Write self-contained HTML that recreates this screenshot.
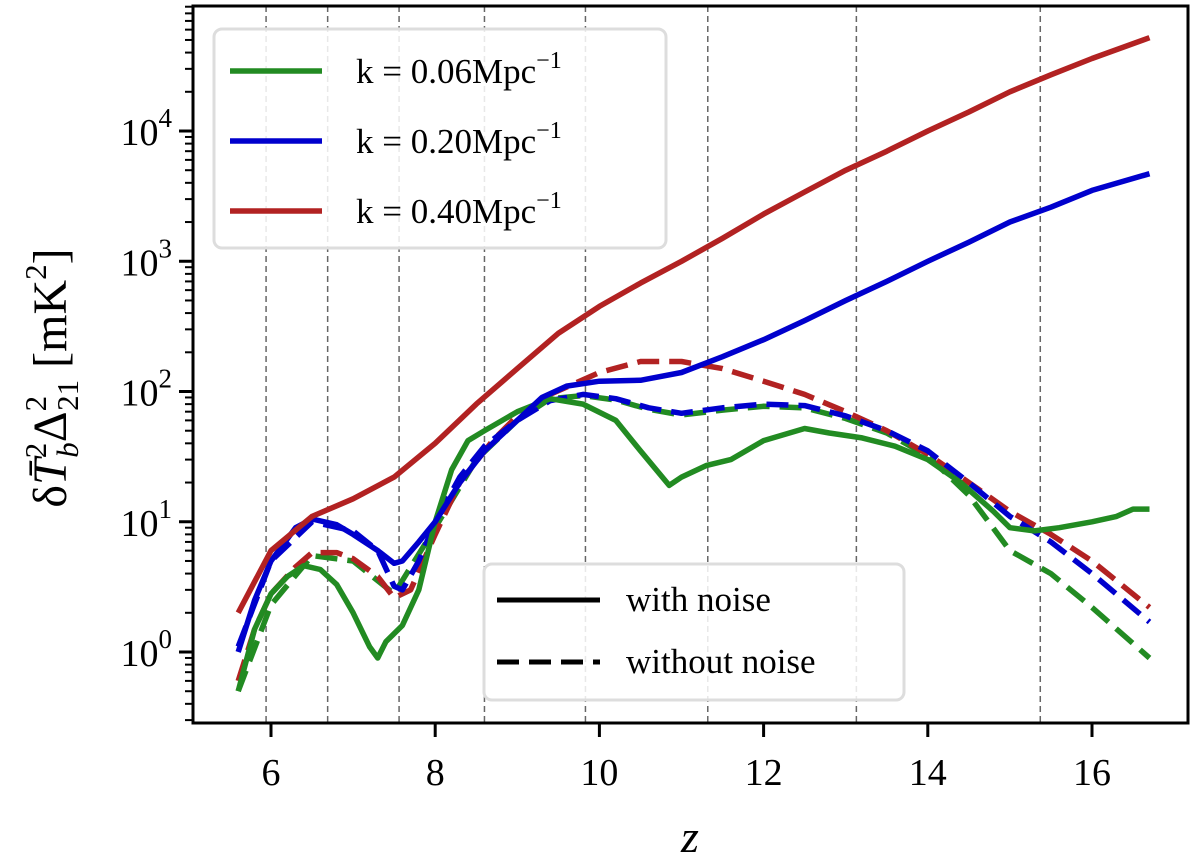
<!DOCTYPE html>
<html><head><meta charset="utf-8"><style>
body{margin:0;background:#fff;}
svg text{font-family:"Liberation Serif",serif;fill:#000;}
</style></head><body>
<svg id="chart" width="1200" height="862" viewBox="0 0 1200 862" xmlns="http://www.w3.org/2000/svg">
<g id="grid"></g>
<g id="series"></g>
<g id="axes"></g>
<g id="legend1"></g>
<g id="legend2"></g>
<text x="690" y="852" font-size="46" font-style="italic" text-anchor="middle">z</text>
<text transform="translate(66,378) rotate(-90)" font-size="48" text-anchor="middle">δ<tspan font-style="italic">T̄</tspan><tspan font-size="31" dy="-20">2</tspan><tspan font-size="31" font-style="italic" dy="32" dx="-15">b</tspan><tspan dy="-12">Δ</tspan><tspan font-size="31" dy="-20">2</tspan><tspan font-size="31" dy="32" dx="-15">21</tspan><tspan dy="-12"> [mK</tspan><tspan font-size="31" dy="-20">2</tspan><tspan dy="20">]</tspan></text>
</svg>
<script>
const zRS=[5.6,6,6.5,7,7.5,8,8.5,9,9.5,10,10.5,11,11.5,12,12.5,13,13.5,14,14.5,15,15.5,16,16.7];
const vRS=[2,6,11,15,22,40,80,150,280,450,680,1000,1500,2300,3400,5000,7000,10000,14000,20000,27000,36000,52000];
const zBS=[5.6,5.8,6,6.3,6.5,6.8,7,7.3,7.5,7.6,7.8,8,8.3,8.6,9,9.3,9.6,10,10.5,11,11.5,12,12.5,13,13.5,14,14.5,15,15.5,16,16.7];
const vBS=[1.0,2.5,5,9,10.5,9.5,8,6,4.8,5,7,10,20,35,60,90,110,120,122,140,185,250,350,500,700,1000,1400,2000,2600,3500,4700];
const zGS=[5.6,5.8,6,6.2,6.4,6.6,6.8,7,7.2,7.3,7.4,7.6,7.8,8,8.2,8.4,8.6,9,9.4,9.8,10.2,10.5,10.85,11,11.3,11.6,12,12.5,12.8,13.2,13.6,14,14.4,14.8,15,15.3,15.6,16,16.3,16.5,16.7];
const vGS=[0.5,1.5,2.8,3.8,4.6,4.3,3.3,2,1.1,0.9,1.2,1.6,3,10,25,42,50,70,88,80,60,35,19,22,27,30,42,52,48,44,38,30,20,12,9,8.5,9,10,11,12.5,12.5];
const zRD=[5.6,5.8,6,6.3,6.5,6.8,7,7.3,7.5,7.7,8,8.3,8.7,9,9.4,10,10.5,11,11.5,12,12.5,13,13.5,14,14.5,15,15.5,16,16.7];
const vRD=[0.6,1.5,2.8,4.5,5.8,5.8,5.2,3.8,2.6,3,8,20,42,65,95,140,170,170,150,120,95,70,50,33,20,12,8,5,2.2];
const zBD=[5.6,6,6.5,7,7.3,7.5,7.6,7.8,8,8.3,8.6,9,9.4,9.8,10.2,10.6,11,11.5,12,12.5,13,13.5,14,14.5,15,15.5,16,16.7];
const vBD=[1.1,5,10,8.5,6,3.2,3,5,10,22,38,60,85,95,88,75,68,75,80,78,65,50,35,20,11,7,4,1.7];
const zGD=[5.6,6,6.5,7,7.5,8,8.5,9,9.4,9.8,10.2,10.6,11,11.5,12,12.5,13,13.5,14,14.5,15,15.5,16,16.7];
const vGD=[0.5,2.3,5.5,5,2.8,9,30,60,88,93,86,73,66,72,77,75,62,48,32,16,6,4,2.2,0.9];
const xTicks=[6,8,10,12,14,16];
const yTicks=[0,1,2,3,4];
const vlines=[5.94,6.69,7.56,8.6,9.83,11.32,13.13,15.37];

const L=193,R=1188,T=6,B=723;
const X=z=>271+(z-6)*82.1;
const Y=v=>652-Math.log10(v)*130.25;
const NS="http://www.w3.org/2000/svg";
function mk(t,a,p){const e=document.createElementNS(NS,t);for(const k in a)e.setAttribute(k,a[k]);p.appendChild(e);return e;}
const grid=document.getElementById('grid'),ser=document.getElementById('series'),ax=document.getElementById('axes');
vlines.forEach(z=>{const l=mk('line',{x1:X(z),x2:X(z),y1:T,y2:B,stroke:'#666','stroke-width':1.5,'stroke-dasharray':'6,4'},grid);

});
function path(zs,vs,col,dash,name){const d=zs.map((z,i)=>(i?'L':'M')+X(z).toFixed(1)+','+Y(vs[i]).toFixed(1)).join('');
const p=mk('path',{d:d,fill:'none',stroke:col,'stroke-width':5.5,'stroke-linejoin':'round'},ser);
if(dash)p.setAttribute('stroke-dasharray','22,10');

}
const G='#228b22',Bl='#0000cd',Rd='#b22222';
path(zGD,vGD,G,true,'green-dashed-line');
path(zRD,vRD,Rd,true,'red-dashed-line');
path(zBD,vBD,Bl,true,'blue-dashed-line');
path(zGS,vGS,G,false,'green-solid-line');
path(zBS,vBS,Bl,false,'blue-solid-line');
path(zRS,vRS,Rd,false,'red-solid-line');
const fr=mk('rect',{x:L,y:T,width:R-L,height:B-T,fill:'none',stroke:'#000','stroke-width':3},ax);


xTicks.forEach(z=>{mk('line',{x1:X(z),x2:X(z),y1:B,y2:B+14,stroke:'#000','stroke-width':3},ax);
const t=mk('text',{x:X(z),y:B+62,'font-size':38,'text-anchor':'middle'},ax);t.textContent=z;

});
for(let e=-1;e<=4;e++){for(let m=1;m<10;m++){const v=m*Math.pow(10,e);const y=Y(v);if(y<T||y>B)continue;
mk('line',{x1:L,x2:L-(m==1?14:8),y1:y,y2:y,stroke:'#000','stroke-width':m==1?3:2},ax);}}
yTicks.forEach(e=>{const t=mk('text',{x:172,y:Y(Math.pow(10,e))+14,'font-size':38,'text-anchor':'end'},ax);
t.innerHTML='10<tspan font-size="27" dy="-18">'+e+'</tspan>';

});
const l1=document.getElementById('legend1');
mk('rect',{x:214,y:29,width:452,height:219,rx:8,fill:'#fff','fill-opacity':0.85,stroke:'#ddd','stroke-width':3},l1);
[['0.06',G,71],['0.20',Bl,141],['0.40',Rd,211]].forEach(([k,c,y])=>{
mk('line',{x1:230,x2:322,y1:y,y2:y,stroke:c,'stroke-width':5.5},l1);
const t=mk('text',{x:356,y:y+12,'font-size':35},l1);
t.innerHTML='k = '+k+'Mpc<tspan font-size="24" dy="-15">−1</tspan>';

});
const l2=document.getElementById('legend2');
mk('rect',{x:484,y:564,width:420,height:136,rx:8,fill:'#fff','fill-opacity':0.85,stroke:'#ddd','stroke-width':3},l2);
[['with noise',false,600],['without noise',true,662]].forEach(([s,d,y])=>{
const ln=mk('line',{x1:497,x2:600,y1:y,y2:y,stroke:'#000','stroke-width':5},l2);if(d)ln.setAttribute('stroke-dasharray','22,10');
const t=mk('text',{x:626,y:y+11,'font-size':35},l2);t.textContent=s;

});
</script>
</body></html>
